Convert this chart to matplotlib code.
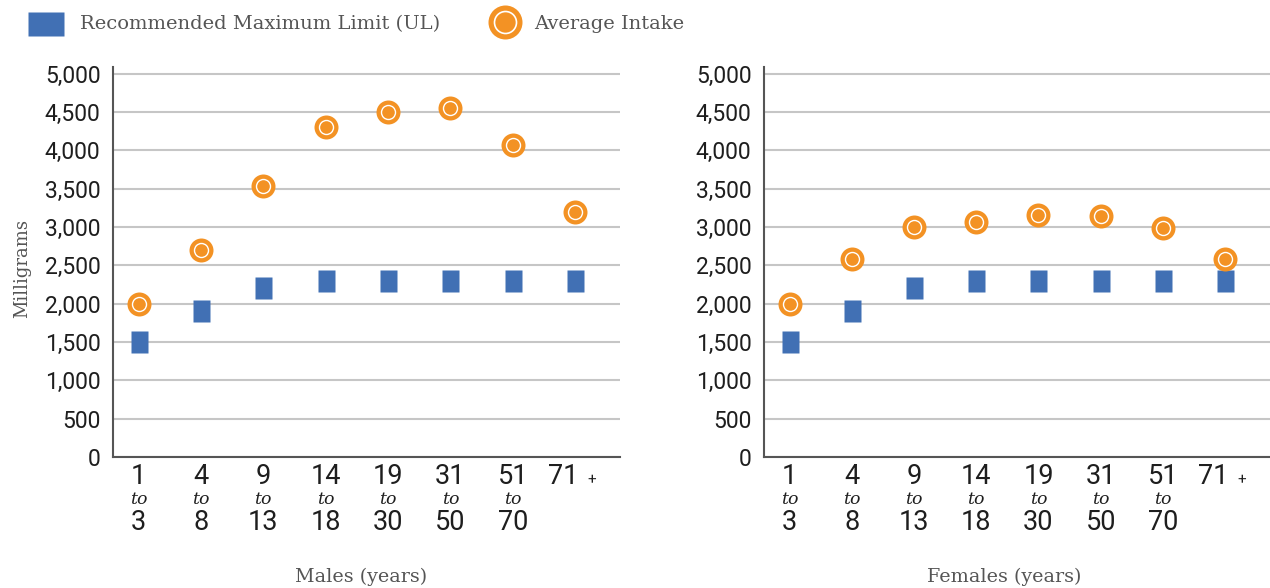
import matplotlib
matplotlib.use("Agg")
import matplotlib.pyplot as plt
from matplotlib.path import Path
from matplotlib.lines import Line2D
import numpy as np

# ---------------- data ----------------
age_start = ["1", "4", "9", "14", "19", "31", "51", "71"]
age_end = ["3", "8", "13", "18", "30", "50", "70", ""]
males_ul = [1500, 1900, 2200, 2300, 2300, 2300, 2300, 2300]
males_intake = [2000, 2700, 3530, 4300, 4500, 4550, 4070, 3190]
females_ul = [1500, 1900, 2200, 2300, 2300, 2300, 2300, 2300]
females_intake = [2000, 2580, 3000, 3060, 3150, 3140, 2980, 2580]
y_ticks = [0, 500, 1000, 1500, 2000, 2500, 3000, 3500, 4000, 4500, 5000]
panel_titles = ["Males (years)", "Females (years)"]
legend_labels = ["Recommended Maximum Limit (UL)", "Average Intake"]

BLUE = "#4170B4"
ORANGE = "#F39224"
GRID = "#C6C6C6"
SPINE = "#555555"
TEXT = "#1E1E1E"
GREY_TXT = "#555555"

NUM_FONT = ["Roboto", "DejaVu Sans"]
NUM_W = "normal"
SERIF = ["DejaVu Serif"]

W, H = 1270, 588
fig = plt.figure(figsize=(W / 100, H / 100), dpi=100)

# rectangular marker (taller than wide)
rw = 17 / 22
rect_marker = Path([(-rw, -1), (rw, -1), (rw, 1), (-rw, 1), (-rw, -1)],
                   [Path.MOVETO, Path.LINETO, Path.LINETO, Path.LINETO, Path.CLOSEPOLY])

def px(v):
    return v * 72 / 100

def make_panel(left_px, right_px, ul, intake, title, title_x):
    top_px, bot_px = 67, 457
    ax = fig.add_axes([left_px / W, 1 - bot_px / H, (right_px - left_px) / W, (bot_px - top_px) / H])
    x = np.arange(len(age_start))
    ax.plot(x, ul, linestyle="none", marker=rect_marker, markersize=px(22),
            markerfacecolor=BLUE, markeredgecolor="none", zorder=3)
    ax.plot(x, intake, linestyle="none", marker="o", markersize=px(24),
            markerfacecolor=ORANGE, markeredgecolor="none", zorder=4)
    ax.plot(x, intake, linestyle="none", marker="o", markersize=px(14),
            markerfacecolor="none", markeredgecolor="white", markeredgewidth=1.0, zorder=5)
    ax.set_xlim(-0.41, 7.72)
    ax.set_ylim(0, 5085)
    ax.set_yticks(y_ticks)
    ax.set_yticklabels([f"{v:,}" for v in y_ticks], fontfamily=NUM_FONT, fontweight=NUM_W,
                       fontsize=16.5, color=TEXT)
    ax.tick_params(axis="y", length=0, pad=9)
    ax.set_xticks([])
    ax.grid(axis="y", color=GRID, linewidth=1.5, zorder=0)
    ax.set_axisbelow(True)
    for s in ["top", "right"]:
        ax.spines[s].set_visible(False)
    for s in ["left", "bottom"]:
        ax.spines[s].set_color(SPINE)
        ax.spines[s].set_linewidth(1.5)
    tr = ax.get_xaxis_transform()
    hgt = bot_px - top_px
    def ay(ypx):
        return -(ypx - bot_px) / hgt
    for i in range(len(age_start)):
        if age_end[i]:
            ax.text(i, ay(477), age_start[i], transform=tr, ha="center", va="center",
                    fontfamily=NUM_FONT, fontweight=NUM_W, fontsize=19.5, color=TEXT)
            ax.text(i, ay(500), "to", transform=tr, ha="center", va="center",
                    fontfamily=SERIF, fontstyle="italic", fontsize=12.5, color=TEXT)
            ax.text(i, ay(522), age_end[i], transform=tr, ha="center", va="center",
                    fontfamily=NUM_FONT, fontweight=NUM_W, fontsize=19.5, color=TEXT)
        else:
            ax.text(i + 0.05, ay(477), age_start[i], transform=tr, ha="right", va="center",
                    fontfamily=NUM_FONT, fontweight=NUM_W, fontsize=19.5, color=TEXT)
            ax.text(i + 0.27, ay(480), "+", transform=tr, ha="center", va="center",
                    fontfamily=NUM_FONT, fontsize=11, color=TEXT)
    ax.text(title_x, ay(577), title, transform=ax.transAxes,
            ha="center", va="center", fontfamily=SERIF, fontsize=13.8, color=GREY_TXT)
    return ax

ax1 = make_panel(113, 620, males_ul, males_intake, panel_titles[0], 0.49)
ax2 = make_panel(764, 1270, females_ul, females_intake, panel_titles[1], 0.475)

fig.text(22 / W, 1 - 268 / H, "Milligrams", rotation=90, ha="center", va="center",
         fontfamily=SERIF, fontsize=13, color=GREY_TXT)

# legend
ft = fig.transFigure
legend_rect = Path([(-1.5, -1), (1.5, -1), (1.5, 1), (-1.5, 1), (-1.5, -1)],
                   [Path.MOVETO, Path.LINETO, Path.LINETO, Path.LINETO, Path.CLOSEPOLY])
fig.add_artist(Line2D([46 / W], [1 - 24 / H], transform=ft, linestyle="none", marker=legend_rect,
                      markersize=px(36), markerfacecolor=BLUE, markeredgecolor="none"))
fig.text(80 / W, 1 - 24 / H, legend_labels[0], ha="left", va="center",
         fontfamily=SERIF, fontsize=14, color=GREY_TXT)
fig.add_artist(Line2D([505 / W], [1 - 22 / H], transform=ft, linestyle="none", marker="o",
                      markersize=px(34), markerfacecolor=ORANGE, markeredgecolor="none"))
fig.add_artist(Line2D([505 / W], [1 - 22 / H], transform=ft, linestyle="none", marker="o",
                      markersize=px(22), markerfacecolor="none", markeredgecolor="white",
                      markeredgewidth=1.2))
fig.text(534 / W, 1 - 24 / H, legend_labels[1], ha="left", va="center",
         fontfamily=SERIF, fontsize=14, color=GREY_TXT)

fig.savefig("out.png", dpi=100)
